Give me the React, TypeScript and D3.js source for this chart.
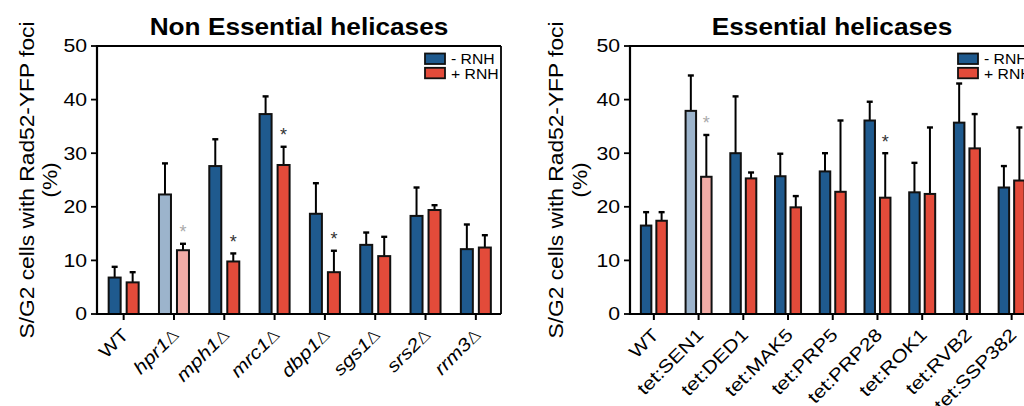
import React from "react";
import * as d3 from "d3";

// Non-essential helicase mutants
const nonEssCategories = ["WT", "hpr1", "mph1", "mrc1", "dbp1", "sgs1", "srs2", "rrm3"];
const nonEssDeletion = [false, true, true, true, true, true, true, true];
const nonEssMinusRNH = [6.8, 22.3, 27.6, 37.3, 18.7, 12.9, 18.3, 12.1];
const nonEssMinusErr = [2.0, 5.8, 5.0, 3.3, 5.7, 2.3, 5.3, 4.6];
const nonEssPlusRNH = [5.9, 11.9, 9.8, 27.8, 7.8, 10.8, 19.4, 12.4];
const nonEssPlusErr = [1.9, 1.2, 1.5, 3.4, 4.0, 3.6, 0.9, 2.3];
const nonEssFaded = ["hpr1"];
const nonEssStars = [
  { cat: "hpr1", grey: true },
  { cat: "mph1", grey: false },
  { cat: "mrc1", grey: false },
  { cat: "dbp1", grey: false },
];

// Essential helicases under tet-repressible promoters
const essCategories = ["WT", "tet:SEN1", "tet:DED1", "tet:MAK5", "tet:PRP5", "tet:PRP28", "tet:ROK1", "tet:RVB2", "tet:SSP382"];
const essDeletion = [false, false, false, false, false, false, false, false, false];
const essMinusRNH = [16.5, 37.9, 30.0, 25.7, 26.6, 36.1, 22.7, 35.7, 23.6];
const essMinusErr = [2.5, 6.6, 10.6, 4.2, 3.4, 3.5, 5.5, 7.3, 4.0];
const essPlusRNH = [17.4, 25.6, 25.3, 19.9, 22.8, 21.7, 22.4, 30.9, 24.9];
const essPlusErr = [1.6, 7.8, 1.1, 2.1, 13.3, 8.3, 12.4, 6.4, 9.9];
const essFaded = ["tet:SEN1"];
const essStars = [
  { cat: "tet:SEN1", grey: true },
  { cat: "tet:PRP28", grey: false },
];

const yTicks = [0, 10, 20, 30, 40, 50];
const legendLabels = ["- RNH", "+ RNH"];

const BLUE = "#1f5a8e";
const RED = "#e34b3a";
const BLUE_LIGHT = "#9cb4cc";
const RED_LIGHT = "#f2aca6";
const FONT = "'Liberation Sans', Arial, Helvetica, sans-serif";
const SX = 1.18;

type STextProps = {
  x: number;
  y: number;
  rotate?: number;
  sx?: number;
  anchor?: "start" | "middle" | "end";
  size: number;
  weight?: string;
  fill?: string;
  children: React.ReactNode;
};

// Text with a slight horizontal stretch in its own frame
function SText({ x, y, rotate = 0, sx = SX, anchor = "start", size, weight = "normal", fill = "#000", children }: STextProps) {
  return (
    <text
      transform={`translate(${x},${y}) rotate(${rotate}) scale(${sx},1)`}
      textAnchor={anchor}
      fontSize={size}
      fontWeight={weight}
      fontFamily={FONT}
      fill={fill}
    >
      {children}
    </text>
  );
}

type PanelProps = {
  title: string;
  categories: string[];
  deletion: boolean[];
  minus: number[];
  minusErr: number[];
  plus: number[];
  plusErr: number[];
  faded: string[];
  stars: { cat: string; grey: boolean }[];
  axisX: number;
  frameRight: number;
  barW: number;
  gap: number;
  labelX1: number;
  labelX2: number;
};

function Panel(p: PanelProps) {
  const top = 46;
  const bottom = 314;
  const y = d3.scaleLinear().domain([0, 50]).range([bottom, top]);
  const x = d3.scaleBand<string>().domain(p.categories).range([p.axisX + 1.5, p.frameRight]);
  const cx = (c: string) => (x(c) as number) + x.bandwidth() / 2;
  const off = d3
    .scaleOrdinal<string, number>()
    .domain(["minus", "plus"])
    .range([-p.gap / 2 - p.barW / 2, p.gap / 2 + p.barW / 2]);

  const series = [
    { key: "minus", vals: p.minus, errs: p.minusErr, color: BLUE, light: BLUE_LIGHT },
    { key: "plus", vals: p.plus, errs: p.plusErr, color: RED, light: RED_LIGHT },
  ];

  const titleX = (p.axisX + p.frameRight) / 2;
  const legX = p.frameRight - 76;

  return (
    <g>
      <SText x={titleX} y={35} anchor="middle" size={23} weight="bold" sx={1.14}>
        {p.title}
      </SText>

      {/* error bars (upper only) */}
      {series.map((s) =>
        p.categories.map((c, i) => {
          const bx = cx(c) + off(s.key);
          const y0 = y(s.vals[i]);
          const y1 = y(s.vals[i] + s.errs[i]);
          return (
            <g key={`e-${s.key}-${c}`} stroke="#000" strokeWidth={2}>
              <line x1={bx} x2={bx} y1={y0} y2={y1} />
              <line x1={bx - 3} x2={bx + 3} y1={y1} y2={y1} strokeWidth={2.4} />
            </g>
          );
        })
      )}

      {/* bars */}
      {series.map((s) =>
        p.categories.map((c, i) => {
          const bx = cx(c) + off(s.key);
          const fade = p.faded.includes(c);
          return (
            <rect
              key={`b-${s.key}-${c}`}
              x={bx - p.barW / 2}
              y={y(s.vals[i])}
              width={p.barW}
              height={y(0) - y(s.vals[i])}
              fill={fade ? s.light : s.color}
              stroke="#111"
              strokeWidth={2}
            />
          );
        })
      )}

      {/* significance marks */}
      {p.stars.map((st) => {
        const i = p.categories.indexOf(st.cat);
        const bx = cx(st.cat) + off("plus");
        const yc = y(p.plus[i] + p.plusErr[i]) - 16;
        return (
          <SText key={`s-${st.cat}`} x={bx} y={yc + 10.5} anchor="middle" size={18} sx={1} fill={st.grey ? "#aaaaaa" : "#333333"}>
            *
          </SText>
        );
      })}

      {/* frame */}
      <line x1={p.axisX} x2={p.frameRight} y1={top} y2={top} stroke="#000" strokeWidth={1.8} />
      <line x1={p.frameRight} x2={p.frameRight} y1={top} y2={bottom} stroke="#000" strokeWidth={1.8} />

      {/* y axis */}
      <line x1={p.axisX} x2={p.axisX} y1={top - 0.9} y2={bottom + 1} stroke="#000" strokeWidth={2.2} />
      {yTicks.map((t) => (
        <g key={`yt-${t}`}>
          <line x1={p.axisX - 6} x2={p.axisX} y1={y(t)} y2={y(t)} stroke="#000" strokeWidth={1.8} />
          <SText x={p.axisX - 10} y={y(t) + 6.4} anchor="end" size={18}>
            {t}
          </SText>
        </g>
      ))}

      {/* x axis */}
      <line x1={p.axisX - 1} x2={p.frameRight} y1={bottom} y2={bottom} stroke="#000" strokeWidth={2.2} />
      {p.categories.map((c, i) => (
        <g key={`xt-${c}`}>
          <line x1={cx(c)} x2={cx(c)} y1={bottom} y2={bottom + 6} stroke="#000" strokeWidth={2} />
          <SText x={cx(c) + 6} y={bottom + 22} rotate={-45} anchor="end" size={18}>
            {p.deletion[i] ? (
              <>
                <tspan fontStyle="italic">{c}</tspan>
                <tspan fontWeight="lighter" fontFamily="'DejaVu Sans', sans-serif" fontSize={16}>
                  Δ
                </tspan>
              </>
            ) : (
              c
            )}
          </SText>
        </g>
      ))}

      {/* y axis title */}
      <SText x={p.labelX1} y={180} rotate={-90} anchor="middle" size={19.3}>
        S/G2 cells with Rad52-YFP foci
      </SText>
      <SText x={p.labelX2} y={180} rotate={-90} anchor="middle" size={19.3}>
        (%)
      </SText>

      {/* legend */}
      {legendLabels.map((l, k) => (
        <g key={`lg-${l}`}>
          <rect x={legX} y={53.5 + k * 14.3} width={20} height={10.5} fill={k === 0 ? BLUE : RED} stroke="#111" strokeWidth={1.8} />
          <SText x={legX + 26} y={64.3 + k * 14.3} size={15} sx={1.05}>
            {l}
          </SText>
        </g>
      ))}
    </g>
  );
}

export default function App() {
  return (
    <svg width={1024} height={406} style={{ position: "absolute", left: 0, top: 0, background: "#fff" }}>
      <rect width={1024} height={406} fill="#fff" />
      <Panel
        title="Non Essential helicases"
        categories={nonEssCategories}
        deletion={nonEssDeletion}
        minus={nonEssMinusRNH}
        minusErr={nonEssMinusErr}
        plus={nonEssPlusRNH}
        plusErr={nonEssPlusErr}
        faded={nonEssFaded}
        stars={nonEssStars}
        axisX={97}
        frameRight={501}
        barW={12}
        gap={6}
        labelX1={34}
        labelX2={57}
      />
      <Panel
        title="Essential helicases"
        categories={essCategories}
        deletion={essDeletion}
        minus={essMinusRNH}
        minusErr={essMinusErr}
        plus={essPlusRNH}
        plusErr={essPlusErr}
        faded={essFaded}
        stars={essStars}
        axisX={630}
        frameRight={1034}
        barW={10.5}
        gap={5}
        labelX1={563}
        labelX2={587}
      />
    </svg>
  );
}
